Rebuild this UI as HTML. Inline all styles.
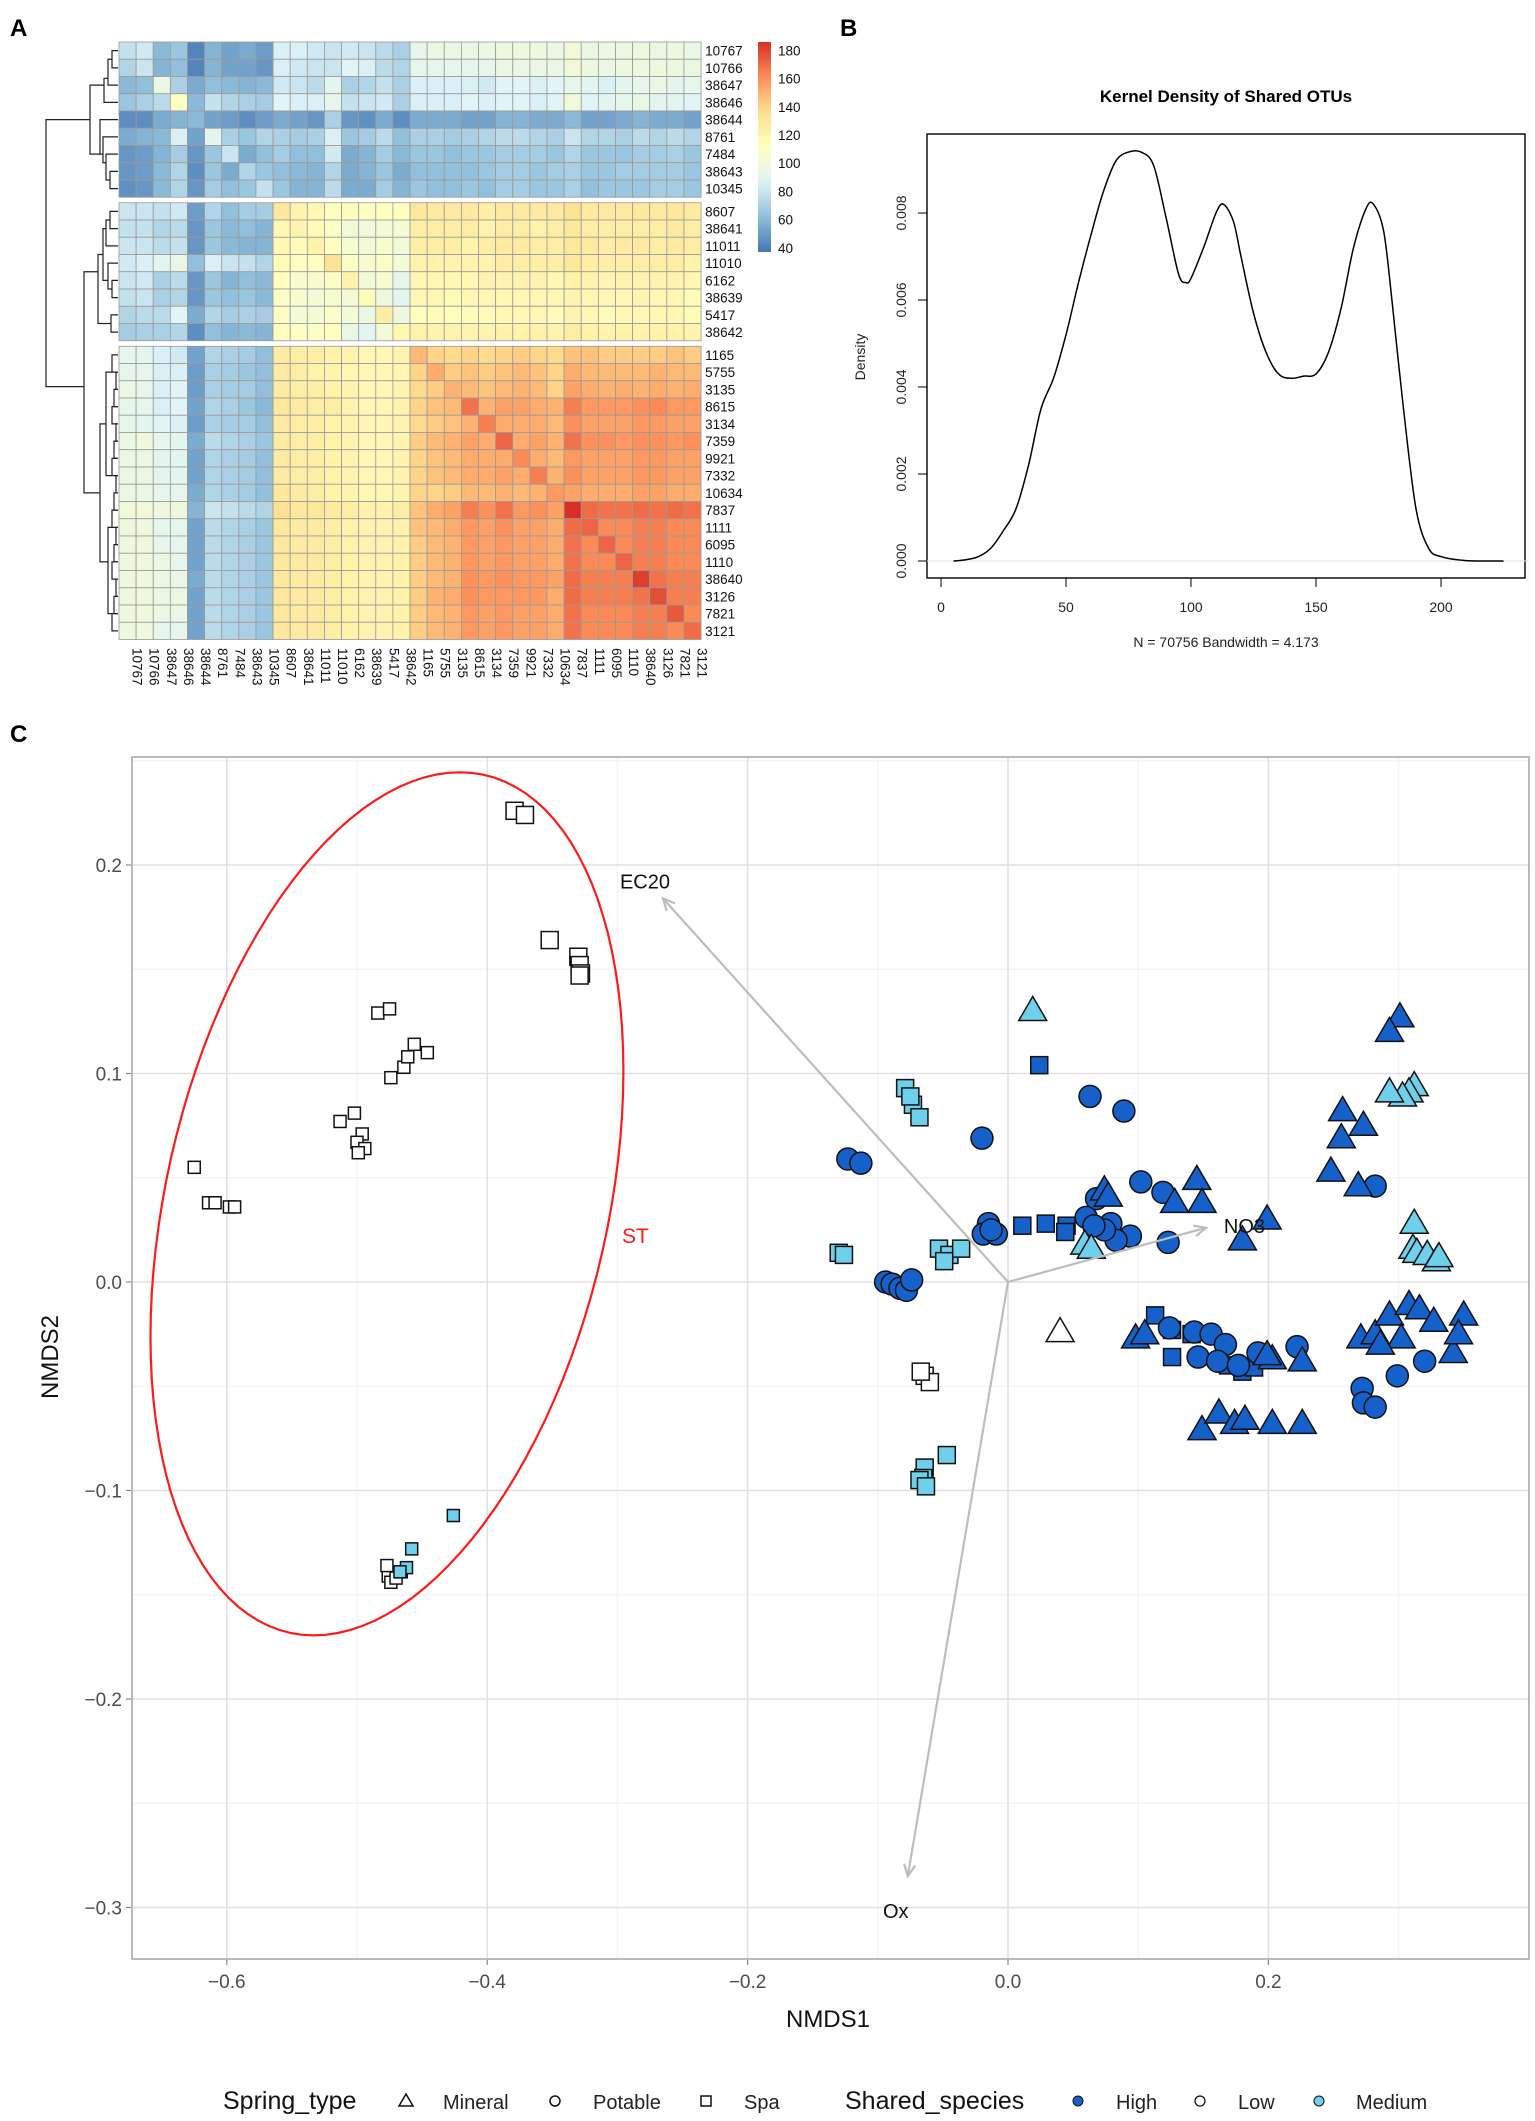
<!DOCTYPE html>
<html><head><meta charset="utf-8"><style>
html,body{margin:0;padding:0;background:#fff;}
svg{display:block;font-family:"Liberation Sans",Arial,sans-serif;}
</style></head><body>
<svg id="fig" width="1535" height="2121" viewBox="0 0 1535 2121" xmlns="http://www.w3.org/2000/svg">
<text x="10" y="36" font-size="24" font-weight="bold">A</text>
<text x="840" y="36" font-size="24" font-weight="bold">B</text>
<text x="10" y="742" font-size="24" font-weight="bold">C</text>
<g id="gA"></g>
<g id="gB"></g>
<g id="gC"></g>
</svg>
<script>
// ---------- Panel A data ----------
const hmLabels=["10767","10766","38647","38646","38644","8761","7484","38643","10345","8607","38641","11011","11010","6162","38639","5417","38642","1165","5755","3135","8615","3134","7359","9921","7332","10634","7837","1111","6095","1110","38640","3126","7821","3121"];
const hmValues=[
[78,82,60,65,42,58,52,55,50,85,85,82,80,82,80,75,70,92,95,95,94,95,97,97,98,95,100,95,97,95,97,95,97,95],
[72,80,58,62,42,58,52,52,48,85,82,80,80,88,85,75,72,92,92,92,92,92,95,95,95,95,100,97,95,97,97,97,97,95],
[60,62,95,70,55,62,60,58,60,82,80,75,90,70,72,78,70,85,85,85,85,82,88,88,85,88,92,90,85,90,92,95,90,92],
[65,70,75,110,60,78,72,70,68,88,85,85,92,78,80,82,70,85,85,85,88,85,88,88,85,88,100,88,90,92,95,90,90,88],
[45,45,55,58,60,52,50,45,50,55,52,48,70,48,46,55,45,55,55,55,52,52,58,58,55,55,60,52,52,55,58,55,55,52],
[55,58,60,85,52,90,70,65,72,70,68,70,85,65,68,75,62,70,70,68,70,72,75,75,72,70,80,72,72,70,75,72,75,72],
[48,50,58,68,48,65,80,55,62,68,62,62,82,55,58,68,60,65,65,62,65,65,68,68,68,65,72,65,65,65,68,68,70,65],
[48,50,60,72,45,65,55,72,65,62,60,58,72,55,58,65,55,62,62,62,62,65,68,68,65,68,70,65,65,68,68,68,68,65],
[46,48,60,72,48,68,62,65,78,65,58,58,75,55,55,68,58,65,62,62,65,62,68,68,65,65,70,62,65,65,65,68,68,65],
[80,80,78,82,50,72,62,68,68,130,120,118,112,115,110,112,112,130,128,128,128,126,128,128,128,128,135,128,128,128,130,128,130,128],
[78,78,72,75,48,65,60,62,58,118,120,115,108,100,100,102,102,125,125,125,125,122,125,125,122,125,130,125,125,125,125,125,128,125],
[80,80,75,78,48,65,60,58,58,118,115,122,110,105,100,105,100,125,125,125,122,125,128,128,125,125,130,128,125,128,128,125,128,125],
[82,85,90,95,62,85,80,78,72,115,110,110,135,108,105,108,102,122,122,120,122,120,125,125,125,125,130,125,125,125,125,125,125,122],
[80,82,70,75,48,65,58,62,60,112,105,105,108,122,100,105,92,118,118,118,118,120,120,120,120,118,122,120,118,120,120,120,120,118],
[78,80,70,72,48,65,62,65,60,108,105,102,105,102,115,98,90,118,118,115,118,118,118,118,118,118,120,118,118,118,120,118,118,115],
[72,75,75,88,55,72,68,70,68,110,102,102,108,102,95,125,98,112,115,112,115,115,118,118,118,115,120,118,115,118,118,118,118,115],
[68,70,70,72,45,62,58,60,58,112,110,108,110,95,90,102,118,122,120,120,120,120,122,122,122,120,125,122,120,122,122,122,122,120],
[92,90,85,82,52,72,70,68,62,128,125,125,122,120,118,118,120,148,140,138,140,138,140,142,140,138,145,145,142,142,142,142,145,142],
[92,92,85,85,50,70,68,65,62,128,125,122,120,118,118,118,118,140,152,142,145,142,145,148,145,140,152,148,148,148,148,150,148,148],
[95,92,85,88,50,70,68,68,62,128,125,125,122,120,118,118,120,138,142,150,148,145,148,150,148,140,155,152,150,152,150,152,150,152],
[92,92,85,88,52,72,70,65,60,130,128,125,125,120,118,118,120,140,145,148,168,150,155,155,152,150,165,158,158,158,160,162,158,158],
[92,90,88,85,50,70,68,68,62,128,125,125,122,120,118,118,120,138,142,145,150,165,152,152,152,148,160,155,155,155,158,158,155,155],
[95,98,92,90,55,75,72,70,65,128,125,125,122,120,118,118,120,142,148,150,155,152,172,152,155,150,168,160,160,158,160,160,158,160],
[95,95,90,90,52,72,70,68,62,128,125,125,122,120,118,118,120,140,145,148,152,152,152,162,152,148,158,155,155,155,158,158,155,155],
[95,95,90,90,52,72,70,68,62,128,125,125,122,120,118,118,120,140,145,148,152,152,155,152,165,150,160,155,155,155,158,158,155,155],
[95,95,92,92,55,72,70,68,62,130,128,125,122,120,118,118,120,140,140,142,148,148,150,148,150,158,155,152,152,152,155,155,152,152],
[100,100,98,98,58,80,78,75,72,135,130,130,128,125,122,122,125,145,152,155,165,160,168,158,160,155,188,170,168,168,170,168,170,168],
[98,98,92,92,52,75,72,70,65,130,128,128,125,122,120,120,122,145,148,152,158,155,160,155,155,152,170,172,162,162,165,165,162,162],
[98,98,92,92,52,75,72,70,65,130,128,128,125,122,120,120,122,142,148,150,158,155,158,155,155,152,168,162,172,162,165,165,162,162],
[98,98,95,92,52,75,72,70,65,130,128,128,125,122,120,120,122,142,148,150,158,155,158,155,155,152,168,162,162,172,165,165,162,162],
[98,98,95,95,55,75,72,70,65,130,128,128,125,122,120,120,122,142,148,150,160,158,160,158,158,155,170,165,165,165,182,168,165,165],
[98,98,95,95,52,75,72,70,65,130,128,128,125,122,120,120,122,142,150,152,160,158,158,158,158,152,170,165,165,165,168,178,165,165],
[98,98,95,95,52,75,72,70,65,130,128,128,125,122,120,120,122,142,148,150,158,155,158,155,155,152,168,162,162,162,165,165,175,162],
[98,98,92,92,52,75,72,70,65,130,128,128,125,122,120,120,122,142,148,150,158,155,158,155,155,152,168,162,162,162,165,165,162,170]];
const hmRowBreaks=[9,17];
const cbTicks=[40,60,80,100,120,140,160,180];

// ---------- Panel B data ----------
const densX=[5,10,15,20,25,30,35,40,45,50,55,60,65,70,75,80,85,90,95,98,100,105,110,113,117,120,125,130,135,140,145,150,155,160,165,170,173,177,180,185,190,195,200,210,225];
const densY=[0,0.00003,0.0001,0.0003,0.0007,0.0012,0.0022,0.0035,0.0042,0.0052,0.0064,0.0075,0.0085,0.0092,0.0094,0.0094,0.0091,0.0079,0.0066,0.0064,0.0065,0.0072,0.0080,0.0082,0.0078,0.0070,0.0057,0.0048,0.0043,0.0042,0.00425,0.0043,0.0048,0.0058,0.0072,0.0081,0.0082,0.0076,0.0062,0.0035,0.0012,0.0003,0.0001,0.00001,0];
const densXTicks=[0,50,100,150,200];
const densYTicks=[0,0.002,0.004,0.006,0.008];

// ---------- Panel C data ----------
const ptX=[-0.379,-0.371,-0.352,-0.330,-0.329,-0.328,-0.329,-0.484,-0.475,-0.456,-0.446,-0.464,-0.474,-0.461,-0.513,-0.502,-0.496,-0.500,-0.494,-0.499,-0.625,-0.614,-0.609,-0.598,-0.594,
-0.476,-0.474,-0.470,-0.466,-0.477,
-0.426,-0.458,-0.462,-0.467,
-0.064,-0.060,-0.067,
-0.047,-0.064,-0.065,-0.068,-0.063,
-0.130,-0.126,
-0.079,-0.073,-0.068,-0.075,
-0.053,-0.045,-0.036,-0.049,
0.024,0.011,0.029,0.045,0.044,
0.113,0.126,0.141,0.169,0.180,0.189,0.126,
-0.123,-0.113,-0.094,-0.089,-0.083,-0.078,-0.074,-0.020,0.063,0.089,-0.015,-0.019,-0.009,-0.013,
0.102,0.119,0.123,0.068,0.060,0.079,0.094,0.083,0.074,0.066,
0.124,0.143,0.156,0.167,0.146,0.161,0.222,0.192,0.177,
0.282,0.272,0.273,0.282,0.299,0.320,
0.019,0.312,0.308,0.303,0.293,0.312,0.311,0.314,0.322,0.329,0.331,0.059,0.064,
0.040,
0.301,0.293,0.257,0.273,0.256,0.248,0.269,0.145,0.149,0.199,0.180,0.128,0.074,0.077,
0.271,0.282,0.293,0.308,0.316,0.327,0.350,0.342,0.346,0.302,0.286,
0.149,0.162,0.174,0.182,0.203,0.226,
0.098,0.105,0.203,0.226,0.199];
const ptY=[0.226,0.224,0.164,0.156,0.152,0.148,0.147,0.129,0.131,0.114,0.110,0.103,0.098,0.108,0.077,0.081,0.071,0.067,0.064,0.062,0.055,0.038,0.038,0.036,0.036,
-0.141,-0.144,-0.142,-0.139,-0.136,
-0.112,-0.128,-0.137,-0.139,
-0.045,-0.048,-0.043,
-0.083,-0.089,-0.094,-0.095,-0.098,
0.014,0.013,
0.093,0.085,0.079,0.089,
0.016,0.013,0.016,0.010,
0.104,0.027,0.028,0.027,0.024,
-0.016,-0.023,-0.025,-0.040,-0.043,-0.041,-0.036,
0.059,0.057,0.000,-0.001,-0.003,-0.004,0.001,0.069,0.089,0.082,0.028,0.023,0.023,0.025,
0.048,0.043,0.019,0.040,0.031,0.028,0.022,0.020,0.025,0.027,
-0.022,-0.024,-0.025,-0.030,-0.036,-0.038,-0.031,-0.034,-0.040,
0.046,-0.051,-0.058,-0.060,-0.045,-0.038,
0.130,0.094,0.091,0.089,0.091,0.028,0.016,0.014,0.013,0.010,0.012,0.018,0.016,
-0.024,
0.127,0.120,0.082,0.075,0.069,0.053,0.046,0.049,0.038,0.030,0.020,0.038,0.044,0.041,
-0.027,-0.025,-0.016,-0.011,-0.013,-0.019,-0.016,-0.034,-0.025,-0.027,-0.030,
-0.071,-0.063,-0.068,-0.066,-0.068,-0.068,
-0.027,-0.025,-0.037,-0.038,-0.035];
const ptShape="SSSSSSSSSSSSSSSSSSSSSSSSS"+"SSSSS"+"SSSS"+"SSS"+"SSSSS"+"SS"+"SSSS"+"SSSS"+"SSSSS"+"SSSSSSS"+"CCCCCCCCCCCCCC"+"CCCCCCCCCC"+"CCCCCCCCC"+"CCCCCC"+"TTTTTTTTTTTTT"+"T"+"TTTTTTTTTTTTTT"+"TTTTTTTTTTT"+"TTTTTT"+"TTTTT";
const ptFill="LLLLLLLLLLLLLLLLLLLLLLLLL"+"LLLLL"+"MMMM"+"LLL"+"MMMMM"+"MM"+"MMMM"+"MMMM"+"HHHHH"+"HHHHHHH"+"HHHHHHHHHHHHHH"+"HHHHHHHHHH"+"HHHHHHHHH"+"HHHHHH"+"MMMMMMMMMMMMM"+"L"+"HHHHHHHHHHHHHH"+"HHHHHHHHHHH"+"HHHHHH"+"HHHHH";
const vecNames=["EC20","NO3","Ox"];
const vecX=[-0.265,0.152,-0.077];
const vecY=[0.184,0.026,-0.285];
const xTicksC=[-0.6,-0.4,-0.2,0.0,0.2];
const yTicksC=[0.2,0.1,0.0,-0.1,-0.2,-0.3];
const ellCenter=[-0.477,0.0375];

const NS="http://www.w3.org/2000/svg";
function mk(tag,attrs,parent,txt){const e=document.createElementNS(NS,tag);for(const k in attrs)e.setAttribute(k,attrs[k]);if(txt!==undefined)e.textContent=txt;parent.appendChild(e);return e;}

// ===== Panel A =====
(function(){
const g=document.getElementById('gA');
const x0=119,cw=17.12,rh=17.25,gap=5.5,y0=42;
const vmin=37,vmax=186;
const stops=[[0,[69,117,180]],[1/6,[145,191,219]],[2/6,[224,243,248]],[3/6,[255,255,191]],[4/6,[254,224,144]],[5/6,[252,141,89]],[1,[215,48,39]]];
function col(v){let t=(v-vmin)/(vmax-vmin);t=Math.max(0,Math.min(1,t));for(let i=1;i<stops.length;i++){if(t<=stops[i][0]){const a=stops[i-1],b=stops[i];const f=(t-a[0])/(b[0]-a[0]);const c=a[1].map((q,j)=>Math.round(q+(b[1][j]-q)*f));return `rgb(${c})`;}}return 'rgb(215,48,39)';}
function rowY(i){let off=0;hmRowBreaks.forEach(b=>{if(i>=b)off+=gap;});return y0+i*rh+off;}
for(let i=0;i<hmLabels.length;i++){
 for(let j=0;j<hmLabels.length;j++){
  const r=mk('rect',{x:x0+j*cw,y:rowY(i),width:cw,height:rh,fill:col(hmValues[i][j]),stroke:'#9a9a9a','stroke-width':0.8},g);
  
  
 }
 const t=mk('text',{x:x0+34*cw+4,y:rowY(i)+rh/2+5,'font-size':13.5,fill:'#111'},g,hmLabels[i]);
 
 
 const cx=x0+i*cw+cw/2+5, cy=648;
 const c=mk('text',{x:0,y:0,'font-size':13.5,fill:'#111',transform:`translate(${cx},${cy}) rotate(90)`},g,hmLabels[i]);
 
 
}
const d=mk('g',{stroke:'#222','stroke-width':1.2,fill:'none'},g);


const mid=i=>rowY(i)+rh/2;
function bracket(x,ya,yb,xa,xb){mk('path',{d:`M${xa},${ya}H${x}V${yb}H${xb}`},d);}
const leafX=112;
bracket(leafX,mid(0),mid(1),118,118);
bracket(108,(mid(0)+mid(1))/2,mid(2),leafX,118);
bracket(104,(mid(0)+mid(1)+mid(2))/2.6,mid(3),108,118);
bracket(110,mid(7),mid(8),118,118);
bracket(106,mid(6),(mid(7)+mid(8))/2,118,110);
bracket(103,mid(5),(mid(6)+mid(7))/2,118,106);
bracket(100,mid(4),(mid(5)+mid(7))/2,118,103);
bracket(90,mid(2),mid(6),104,100);
bracket(110,mid(9),mid(10),118,118);
bracket(106,(mid(9)+mid(10))/2,mid(11),110,118);
bracket(112,mid(13),mid(14),118,118);
bracket(108,mid(12),(mid(13)+mid(14))/2,118,112);
bracket(111,mid(15),mid(16),118,118);
bracket(103,mid(10),mid(13),106,108);
bracket(98,(mid(10)+mid(13))/2,(mid(15)+mid(16))/2,103,111);
for(let i=17;i<33;i++){bracket(116-(i%3)*2,mid(i),mid(i+1),118,118);}
bracket(106,mid(18),mid(24),112,112);
bracket(108,mid(27),mid(32),112,112);
bracket(100,mid(21),mid(29),106,108);
bracket(84,(mid(11)+mid(14))/2,mid(25),98,100);
bracket(46,mid(4),(mid(13)+mid(25))/2,90,84);
const cb=mk('defs',{},g);
const lg=mk('linearGradient',{id:'cbg',x1:0,y1:1,x2:0,y2:0},cb);
for(let k=0;k<=20;k++){const v=vmin+(vmax-vmin)*k/20;mk('stop',{offset:k/20,'stop-color':col(v)},lg);}
const cbTop=42,cbBot=252;
const bar=mk('rect',{x:758,y:cbTop,width:13,height:cbBot-cbTop,fill:'url(#cbg)'},g);


cbTicks.forEach(v=>{const y=cbBot-(v-vmin)/(vmax-vmin)*(cbBot-cbTop);
 const t=mk('text',{x:778,y:y+5,'font-size':13.5,fill:'#111'},g,String(v));
 
 });
})();

// ===== Panel B =====
(function(){
const g=document.getElementById('gB');
const L=927,R=1525,T=134,B=578;
const X=v=>941+v*2.5, Y=v=>561-v*43500;
mk('rect',{x:L,y:T,width:R-L,height:B-T,fill:'none',stroke:'#000','stroke-width':1.4},g);
mk('line',{x1:X(-10),x2:X(235),y1:Y(0),y2:Y(0),stroke:'#e0e0e0','stroke-width':1},g);
const P=densX.map((x,i)=>[X(x),Y(densY[i])]);
let dpath='M'+P[0][0].toFixed(1)+','+P[0][1].toFixed(1);
for(let i=0;i<P.length-1;i++){
 const p0=P[Math.max(0,i-1)],p1=P[i],p2=P[i+1],p3=P[Math.min(P.length-1,i+2)];
 const c1=[p1[0]+(p2[0]-p0[0])/6,p1[1]+(p2[1]-p0[1])/6];
 const c2=[p2[0]-(p3[0]-p1[0])/6,p2[1]-(p3[1]-p1[1])/6];
 dpath+=`C${c1[0].toFixed(1)},${c1[1].toFixed(1)} ${c2[0].toFixed(1)},${c2[1].toFixed(1)} ${p2[0].toFixed(1)},${p2[1].toFixed(1)}`;
}
const p=mk('path',{d:dpath,fill:'none',stroke:'#000','stroke-width':1.5,'stroke-linejoin':'round'},g);


mk('line',{x1:X(0),x2:X(200),y1:B,y2:B,stroke:'#000'},g);
densXTicks.forEach(v=>{mk('line',{x1:X(v),x2:X(v),y1:B,y2:B+9,stroke:'#000'},g);
 const t=mk('text',{x:X(v),y:612,'font-size':14,'text-anchor':'middle',fill:'#222'},g,String(v));
 
 });
densYTicks.forEach(v=>{mk('line',{x1:L,x2:L-9,y1:Y(v),y2:Y(v),stroke:'#000'},g);
 const t=mk('text',{x:0,y:0,'font-size':14,'text-anchor':'middle',fill:'#222',transform:`translate(906,${Y(v)}) rotate(-90)`},g,v.toFixed(3));
 
 });
const tt=mk('text',{x:1226,y:102,'font-size':17,'font-weight':'bold','text-anchor':'middle'},g,'Kernel Density of Shared OTUs');

const st=mk('text',{x:1226,y:647,'font-size':14,'text-anchor':'middle',fill:'#222'},g,'N = 70756   Bandwidth = 4.173');

st.setAttribute('xml:space','preserve');
const yt=mk('text',{x:0,y:0,'font-size':14,'text-anchor':'middle',fill:'#222',transform:'translate(865,357) rotate(-90)'},g,'Density');

})();

// ===== Panel C =====
(function(){
const g=document.getElementById('gC');
const L=132,R=1529,T=757,B=1959;
const X=v=>1008+v*1302, Y=v=>1282-v*2085;
const cp=mk('clipPath',{id:'cpc'},mk('defs',{},g));mk('rect',{x:L,y:T,width:R-L,height:B-T},cp);
for(let v=-0.7;v<=0.4;v+=0.2){const x=X(+v.toFixed(2));if(x>L&&x<R)mk('line',{x1:x,x2:x,y1:T,y2:B,stroke:'#f2f2f2','stroke-width':1.2},g);}
for(let v=-0.35;v<=0.3;v+=0.1){const y=Y(+v.toFixed(3));if(y>T&&y<B)mk('line',{x1:L,x2:R,y1:y,y2:y,stroke:'#f2f2f2','stroke-width':1.2},g);}
xTicksC.forEach(v=>{mk('line',{x1:X(v),x2:X(v),y1:T,y2:B,stroke:'#e0e0e0','stroke-width':1.5},g);
 mk('line',{x1:X(v),x2:X(v),y1:B,y2:B+6,stroke:'#888','stroke-width':1.2},g);
 const t=mk('text',{x:X(v),y:1988,'font-size':19,'text-anchor':'middle',fill:'#4d4d4d'},g,(v<0?'\u2212':'')+Math.abs(v).toFixed(1));
 });
yTicksC.forEach(v=>{mk('line',{x1:L,x2:R,y1:Y(v),y2:Y(v),stroke:'#e0e0e0','stroke-width':1.5},g);
 mk('line',{x1:L-6,x2:L,y1:Y(v),y2:Y(v),stroke:'#888','stroke-width':1.2},g);
 const t=mk('text',{x:L-10,y:Y(v)+7,'font-size':19,'text-anchor':'end',fill:'#4d4d4d'},g,(v<0?'\u2212':'')+Math.abs(v).toFixed(1));
 });
const fr=mk('rect',{x:L,y:T,width:R-L,height:B-T,fill:'none',stroke:'#b3b3b3','stroke-width':1.8},g);

let ep='';for(let k=0;k<=120;k++){const t=k/120*2*Math.PI;const ex=ellCenter[0]+0.1816*Math.cos(t);const ey=ellCenter[1]+0.0638*Math.cos(t)-0.1969*Math.sin(t);ep+=(k?'L':'M')+X(ex).toFixed(1)+','+Y(ey).toFixed(1);}
const el=mk('path',{d:ep+'Z',fill:'none',stroke:'#ff1a1a','stroke-width':2.2},g);

const stl=mk('text',{x:622,y:1243,'font-size':21,fill:'#ff1a1a'},g,'ST');

const fills={H:'#1560c9',L:'#ffffff',M:'#6fd0ec'};
const pg=mk('g',{'clip-path':'url(#cpc)'},g);
for(let i=0;i<ptX.length;i++){
 const cx=X(ptX[i]),cy=Y(ptY[i]);const sh=ptShape[i],f=fills[ptFill[i]];
 const small=ptX[i]<-0.4;
 let e;
 if(sh==='S'){const s=small?12:17;e=mk('rect',{x:cx-s/2,y:cy-s/2,width:s,height:s,fill:f,stroke:'#111','stroke-width':1.5},pg);}
 else if(sh==='C'){e=mk('circle',{cx:cx,cy:cy,r:11,fill:f,stroke:'#111','stroke-width':1.5},pg);}
 else {const w=14,h=24;e=mk('path',{d:`M${cx},${cy-h*0.6}L${cx+w},${cy+h*0.4}L${cx-w},${cy+h*0.4}Z`,fill:f,stroke:'#111','stroke-width':1.5,'stroke-linejoin':'miter'},pg);}
 
 
}
const lblOff=[[-18,-10],[18,5],[-12,42]];
vecNames.forEach((n,i)=>{
 const x1=X(0),y1=Y(0),x2=X(vecX[i]),y2=Y(vecY[i]);
 const a=mk('line',{x1:x1,y1:y1,x2:x2,y2:y2,stroke:'#bdbdbd','stroke-width':2.2},g);
 
 const ang=Math.atan2(y2-y1,x2-x1),hl=13;
 mk('path',{d:`M${x2+hl*Math.cos(ang+2.7)},${y2+hl*Math.sin(ang+2.7)}L${x2},${y2}L${x2+hl*Math.cos(ang-2.7)},${y2+hl*Math.sin(ang-2.7)}`,fill:'none',stroke:'#bdbdbd','stroke-width':2.2},g);
 const t=mk('text',{x:x2+lblOff[i][0],y:y2+lblOff[i][1],'font-size':20,fill:'#111','text-anchor':i===1?'start':'middle'},g,n);
 
});
const xt=mk('text',{x:828,y:2027,'font-size':24,'text-anchor':'middle',fill:'#111'},g,'NMDS1');

const yt=mk('text',{x:0,y:0,'font-size':24,'text-anchor':'middle',fill:'#111',transform:'translate(58,1357) rotate(-90)'},g,'NMDS2');

const lg=mk('g',{},g);
const ly=2101;
mk('text',{x:223,y:ly+8,'font-size':25,fill:'#111'},lg,'Spring_type');
mk('path',{d:`M406,${ly-7}L413,${ly+5}L399,${ly+5}Z`,fill:'none',stroke:'#111','stroke-width':1.5},lg);
mk('text',{x:443,y:ly+8,'font-size':20,fill:'#222'},lg,'Mineral');
mk('circle',{cx:555,cy:ly,r:5,fill:'none',stroke:'#111','stroke-width':1.5},lg);
mk('text',{x:593,y:ly+8,'font-size':20,fill:'#222'},lg,'Potable');
mk('rect',{x:701,y:ly-5,width:10,height:10,fill:'none',stroke:'#111','stroke-width':1.5},lg);
mk('text',{x:744,y:ly+8,'font-size':20,fill:'#222'},lg,'Spa');
mk('text',{x:845,y:ly+8,'font-size':25,fill:'#111'},lg,'Shared_species');
mk('circle',{cx:1078,cy:ly,r:5,fill:fills.H,stroke:'#111','stroke-width':1},lg);
mk('text',{x:1116,y:ly+8,'font-size':20,fill:'#222'},lg,'High');
mk('circle',{cx:1200,cy:ly,r:5,fill:'#fff',stroke:'#111','stroke-width':1.3},lg);
mk('text',{x:1238,y:ly+8,'font-size':20,fill:'#222'},lg,'Low');
mk('circle',{cx:1319,cy:ly,r:5,fill:fills.M,stroke:'#111','stroke-width':1},lg);
mk('text',{x:1356,y:ly+8,'font-size':20,fill:'#222'},lg,'Medium');
})();
</script>
</body></html>
